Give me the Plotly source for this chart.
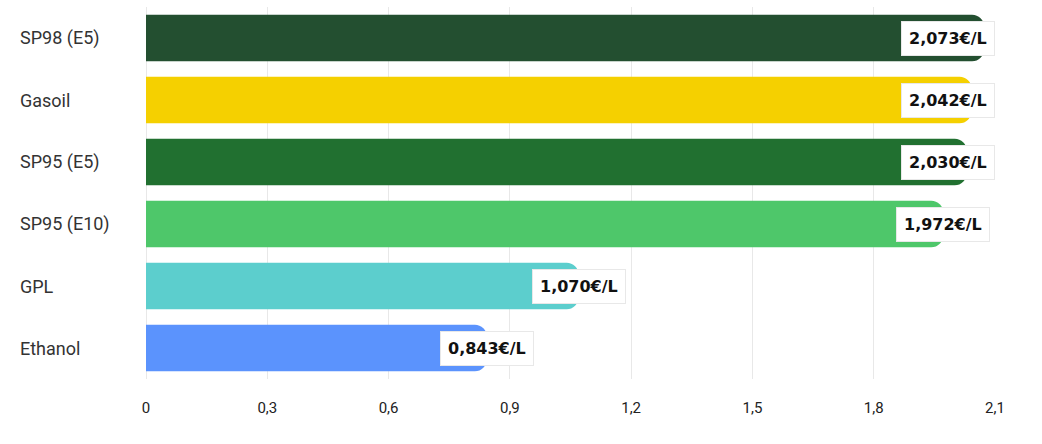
import plotly.graph_objects as go

categories = ["SP98 (E5)", "Gasoil", "SP95 (E5)", "SP95 (E10)", "GPL", "Ethanol"]
prices = [2.073, 2.042, 2.030, 1.972, 1.070, 0.843]
bar_colors = ["#234f30", "#f5d000", "#217030", "#4ec76a", "#5ccecd", "#5b93fd"]
x_ticks = [0, 0.3, 0.6, 0.9, 1.2, 1.5, 1.8, 2.1]
x_max = 2.1

W, H = 1042, 444
ML, MR, MT, MB = 146, 47, 7, 65
px_per_unit = (W - ML - MR) / x_max
box_half_units = 47 / px_per_unit

fig = go.Figure()
fig.add_trace(go.Bar(
    y=categories, x=prices, orientation="h",
    marker=dict(color=bar_colors, cornerradius=12, line=dict(width=0)),
    hoverinfo="skip",
))

annotations = []
for cat, v in zip(categories, prices):
    label = f"{v:.3f}".replace(".", ",") + "€/L"
    if v + box_half_units > x_max:
        ax, anchor, shift = x_max, "right", 0
    else:
        ax, anchor, shift = v, "center", 0
    annotations.append(dict(
        x=ax, y=cat, xref="x", yref="y", text=label, showarrow=False,
        xanchor=anchor, yanchor="middle", xshift=shift,
        font=dict(family="DejaVu Sans", size=16, color="#111111", weight="bold"),
        bgcolor="white", bordercolor="#e8e8e8", borderwidth=1, borderpad=7,
    ))
    annotations.append(dict(
        x=0, y=cat, xref="paper", yref="y", text=cat, showarrow=False,
        xanchor="left", yanchor="middle", xshift=-(ML - 18),
        font=dict(family="Roboto", size=18, color="#333333"),
    ))

fig.update_layout(
    width=W, height=H,
    margin=dict(l=ML, r=MR, t=MT, b=MB),
    paper_bgcolor="white", plot_bgcolor="white",
    separators=", ",
    bargap=0.25,
    showlegend=False,
    annotations=annotations,
    xaxis=dict(
        range=[0, x_max], tickvals=x_ticks, showgrid=True, gridcolor="#e8e8e8", gridwidth=1,
        zeroline=True, zerolinecolor="#e8e8e8", zerolinewidth=1, showline=False,
        ticks="", ticklabelstandoff=18,
        tickfont=dict(family="Roboto", size=15, color="#222222"),
    ),
    yaxis=dict(
        categoryorder="array", categoryarray=categories, autorange="reversed",
        showticklabels=False, showgrid=False, zeroline=False, showline=False, ticks="",
    ),
)

fig.write_html("out.html")
